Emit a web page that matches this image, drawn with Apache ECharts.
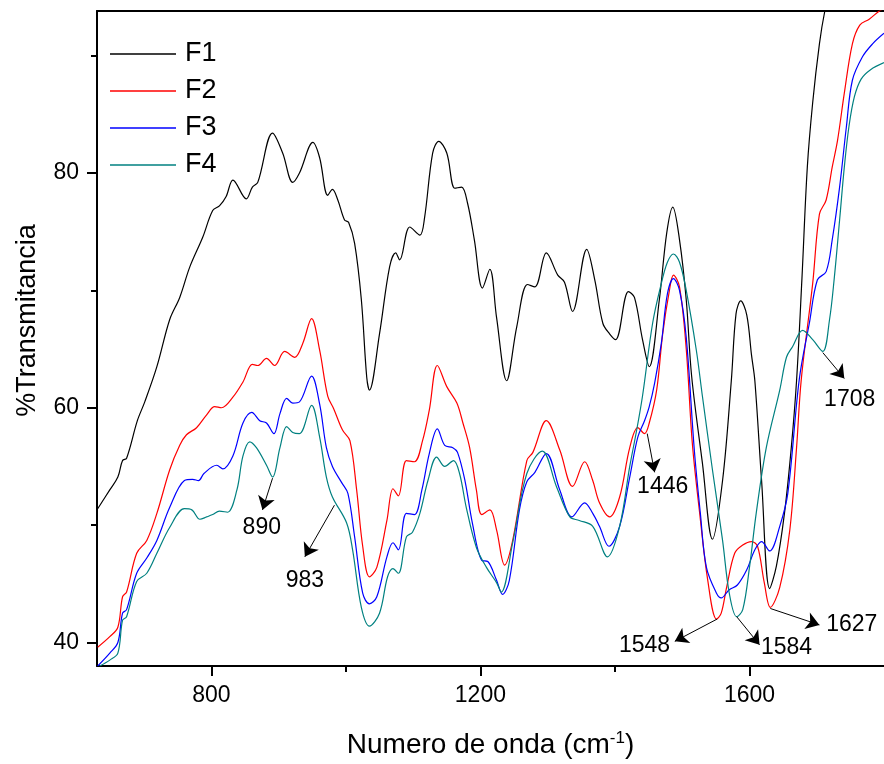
<!DOCTYPE html>
<html><head><meta charset="utf-8">
<script src="https://cdn.jsdelivr.net/npm/echarts@6/dist/echarts.min.js"></script>
<style>html,body{margin:0;padding:0;background:#fff}#c{width:884px;height:764px}</style>
</head><body><div id="c"></div>
<script>
var seriesNames = ['F1','F2','F3','F4'];
var F1 = [[631,51.4],[649,53.0],[661,54.1],[668,55.5],[674,55.7],[690,58.9],[701,60.5],[719,63.5],[738,67.5],[753,69.4],[768,72.0],[787,74.5],[802,76.8],[812,77.2],[822,78.0],[832,79.4],[852,77.8],[861,78.8],[869,79.2],[891,83.4],[906,81.7],[921,79.2],[931,80.0],[951,82.6],[961,81.3],[973,78.1],[980,78.6],[988,77.7],[998,76.0],[1004,75.8],[1013,74.0],[1023,69.2],[1031,62.6],[1035,61.5],[1050,66.3],[1065,72.0],[1074,73.2],[1080,72.6],[1095,75.4],[1110,74.7],[1117,76.2],[1129,81.7],[1138,82.7],[1150,81.7],[1162,78.7],[1172,78.8],[1181,77.4],[1191,74.3],[1203,70.2],[1214,71.8],[1224,67.7],[1239,62.3],[1254,66.9],[1270,70.5],[1281,70.3],[1298,73.2],[1315,71.3],[1325,70.7],[1337,68.2],[1358,73.5],[1370,70.9],[1382,67.2],[1392,66.3],[1401,65.8],[1420,69.9],[1429,69.4],[1441,65.8],[1451,63.5],[1466,69.2],[1477,74.9],[1486,77.1],[1496,74.3],[1506,69.2],[1514,62.7],[1530,55.3],[1545,48.8],[1560,53.8],[1573,62.3],[1580,68.0],[1587,69.1],[1596,67.9],[1603,64.5],[1608,62.3],[1618,53.8],[1630,44.6],[1640,46.5],[1652,51.0],[1662,56.5],[1670,62.3],[1678,71.0],[1686,80.5],[1694,86.0],[1704,91.0],[1712,93.8],[1725,97.0],[1800,99.0]];
var F2 = [[631,39.6],[649,40.5],[661,41.3],[668,43.9],[674,44.3],[689,47.6],[704,48.7],[719,51.0],[738,54.7],[753,56.8],[763,57.7],[778,58.3],[793,59.4],[805,60.1],[815,60.0],[832,60.9],[847,62.2],[861,63.7],[869,63.6],[882,64.2],[894,63.6],[909,64.8],[924,64.3],[936,65.5],[949,67.6],[961,64.9],[973,61.0],[982,59.9],[995,58.1],[1006,57.2],[1016,53.0],[1025,48.2],[1035,45.6],[1046,46.4],[1061,50.4],[1070,53.1],[1078,52.5],[1090,55.5],[1102,55.4],[1114,57.2],[1124,59.8],[1136,63.6],[1150,61.8],[1165,60.4],[1174,58.7],[1184,56.6],[1194,53.0],[1202,50.9],[1214,51.3],[1224,49.6],[1236,46.6],[1248,48.7],[1269,55.5],[1278,56.2],[1298,58.9],[1318,56.4],[1337,53.3],[1355,55.4],[1367,53.8],[1377,51.9],[1392,50.7],[1407,52.4],[1422,56.6],[1434,58.3],[1444,57.8],[1451,58.7],[1462,61.5],[1471,66.3],[1481,70.0],[1487,71.3],[1496,70.3],[1506,65.0],[1515,57.0],[1526,51.0],[1538,45.3],[1551,42.0],[1558,42.5],[1566,44.7],[1578,47.6],[1590,48.3],[1603,48.6],[1612,48.2],[1622,45.1],[1631,43.0],[1645,44.7],[1660,49.6],[1670,56.6],[1677,62.4],[1694,70.6],[1704,76.5],[1714,77.7],[1723,80.5],[1731,82.8],[1741,86.8],[1753,91.0],[1764,92.6],[1778,93.1],[1793,93.8],[1800,94.0]];
var F3 = [[631,38.0],[649,39.1],[661,40.0],[668,42.5],[674,42.8],[689,45.9],[704,47.2],[719,48.7],[738,51.5],[760,53.8],[772,53.9],[781,53.8],[789,54.4],[808,55.1],[817,54.8],[832,55.9],[847,58.7],[860,59.6],[872,58.9],[882,58.7],[893,57.8],[902,59.5],[912,60.8],[921,60.4],[931,60.5],[949,62.7],[961,60.3],[971,56.6],[980,55.0],[994,53.6],[1003,52.7],[1013,49.0],[1025,44.2],[1035,43.3],[1046,43.9],[1061,47.3],[1070,48.5],[1078,47.9],[1090,51.0],[1102,50.9],[1113,53.0],[1124,56.1],[1136,58.2],[1147,56.8],[1159,56.6],[1166,56.2],[1177,53.8],[1188,50.2],[1202,47.0],[1211,46.9],[1224,45.3],[1233,44.1],[1243,45.3],[1258,51.3],[1269,53.7],[1281,54.5],[1298,56.1],[1318,53.0],[1336,50.7],[1355,51.9],[1367,51.0],[1377,49.9],[1391,48.2],[1407,49.9],[1422,54.1],[1434,57.5],[1444,58.9],[1451,60.1],[1459,62.1],[1469,65.5],[1478,69.7],[1487,71.0],[1496,70.0],[1506,66.0],[1518,56.4],[1527,51.0],[1536,46.4],[1551,44.2],[1558,43.8],[1570,44.5],[1582,44.9],[1596,46.2],[1608,47.9],[1618,48.6],[1630,47.8],[1645,49.9],[1657,52.7],[1674,62.4],[1689,67.2],[1701,70.9],[1714,71.6],[1723,74.3],[1734,78.8],[1744,83.9],[1753,87.9],[1768,89.9],[1783,91.0],[1800,91.9]];
var F4 = [[634,38.0],[649,38.5],[661,39.1],[668,41.9],[674,42.2],[689,45.2],[704,45.9],[719,47.6],[738,49.8],[760,51.4],[771,51.3],[783,50.5],[793,50.7],[802,50.9],[812,51.2],[824,51.1],[838,53.0],[847,55.9],[857,57.1],[867,56.6],[882,55.1],[891,54.1],[902,56.6],[912,58.4],[921,57.9],[931,57.8],[949,60.2],[961,57.5],[971,54.1],[980,52.4],[1001,50.2],[1010,47.9],[1023,43.0],[1035,41.4],[1050,42.5],[1062,45.6],[1070,46.3],[1078,45.9],[1090,49.0],[1099,49.4],[1110,51.0],[1122,53.8],[1135,55.8],[1147,55.0],[1160,55.5],[1169,54.4],[1179,51.5],[1194,48.1],[1209,46.4],[1224,45.1],[1231,44.3],[1248,48.5],[1269,54.4],[1292,56.3],[1313,53.3],[1333,50.7],[1347,50.4],[1367,49.9],[1389,47.3],[1407,49.9],[1422,55.0],[1432,58.0],[1441,61.0],[1456,67.2],[1469,70.6],[1478,72.4],[1487,73.1],[1496,72.4],[1506,70.0],[1521,64.9],[1530,61.0],[1545,54.7],[1560,48.7],[1570,44.2],[1581,42.2],[1590,42.8],[1600,46.4],[1610,51.0],[1625,56.6],[1645,61.5],[1655,64.3],[1664,65.2],[1679,66.6],[1694,65.8],[1709,64.8],[1719,67.5],[1726,71.0],[1734,76.0],[1741,80.5],[1748,84.0],[1756,86.5],[1766,88.0],[1780,88.8],[1800,89.4]];
var colors = ['#000000','#ff0000','#0000ff','#008080'];
var xMajorTicks = [800,1200,1600];
var xMinorTicks = [1000,1400];
var yMajorTicks = [40,60,80];
var yMinorTicks = [50,70,90];
var annotTexts = ['890','983','1446','1548','1584','1627','1708'];
var annotTextPos = [[875,49.8],[939,45.3],[1471,53.3],[1444,39.7],[1655,39.6],[1752,41.5],[1749,60.7]];
var arrowFrom = [[891,54.0],[983,51.7],[1448,57.8],[1552,42.0],[1581,42.2],[1631,42.9],[1709,64.7]];
var arrowTo = [[876,51.3],[939,47.3],[1459,54.5],[1489,40.1],[1615,39.8],[1704,41.5],[1741,62.5]];

var FONT = "Arial, 'Liberation Sans', sans-serif";
var chart = echarts.init(document.getElementById('c'), null, {renderer:'canvas'});
var xRange = {min:630, max:1800};
var yRange = {min:38, max:93.8};
function plain(v){ return String(v); }
function axBase(extra){
  return Object.assign({type:'value', splitLine:{show:false}, nameMoveOverlap:false}, extra);
}
var allData = [F1,F2,F3,F4];
var series = seriesNames.map(function(n,i){
  return {name:n, type:'line', data:allData[i], xAxisIndex:0, yAxisIndex:0, showSymbol:false, symbol:'none',
    smooth:0.35, clip:true, lineStyle:{color:colors[i], width:1.2}, itemStyle:{color:colors[i]},
    emphasis:{disabled:true}, animation:false, z:2};
});
var mlData = arrowFrom.map(function(f,i){ return [{coord:f},{coord:arrowTo[i]}]; });
series.push({
  name:'annot', type:'scatter', xAxisIndex:0, yAxisIndex:0, symbolSize:0,
  itemStyle:{color:'#000', opacity:1}, silent:true, animation:false, z:5,
  data: annotTexts.map(function(t,i){ return {name:t, value:annotTextPos[i]}; }),
  label:{show:true, position:'inside', formatter:'{b}', color:'#000', opacity:1, fontSize:23, fontFamily:FONT},
  markLine:{silent:true, animation:false, symbol:['none','arrow'], symbolSize:13,
    itemStyle:{color:'#000', opacity:1},
    lineStyle:{color:'#000', width:1, type:'solid', opacity:1}, label:{show:false}, emphasis:{disabled:true},
    data: mlData}
});

chart.setOption({
  animation:false,
  backgroundColor:'#fff',
  grid:{left:97, right:0, top:11, bottom:98, outerBoundsMode:'none', containLabel:false},
  legend:{data:seriesNames, orient:'vertical', left:110, top:39, padding:0, itemGap:7,
    itemWidth:66, itemHeight:14, icon:'path://M0,0 L66,0 L66,1.3 L0,1.3 Z',
    textStyle:{fontSize:27, fontFamily:FONT, color:'#000', lineHeight:30, padding:[0,0,0,4]}},
  xAxis:[
    axBase(Object.assign({position:'bottom', name:'Numero de onda (cm{sup|-1})', nameLocation:'middle', nameGap:64,
      nameTextStyle:{fontSize:28, fontFamily:FONT, color:'#000', rich:{sup:{fontSize:17, fontFamily:FONT, color:'#000', verticalAlign:'top', padding:[0,0,14,0]}}},
      axisLine:{show:true, onZero:false, lineStyle:{color:'#000', width:2}},
      axisTick:{show:true, inside:false, length:10, lineStyle:{color:'#000', width:2}, customValues:xMajorTicks},
      axisLabel:{show:true, margin:18, fontSize:23, fontFamily:FONT, color:'#000', customValues:xMajorTicks, formatter:plain}}, xRange)),
    axBase(Object.assign({position:'bottom', axisLine:{show:false},
      axisTick:{show:true, inside:false, length:6, lineStyle:{color:'#000', width:2}, customValues:xMinorTicks},
      axisLabel:{show:false}}, xRange)),
    axBase(Object.assign({position:'top', axisLine:{show:true, onZero:false, lineStyle:{color:'#000', width:2}},
      axisTick:{show:false}, axisLabel:{show:false}}, xRange))
  ],
  yAxis:[
    axBase(Object.assign({position:'left', name:'%Transmitancia', nameLocation:'middle', nameGap:56, nameRotate:90,
      nameTextStyle:{fontSize:27, fontFamily:FONT, color:'#000', padding:[0,0,0,36]},
      axisLine:{show:true, onZero:false, lineStyle:{color:'#000', width:2}},
      axisTick:{show:true, inside:false, length:10, lineStyle:{color:'#000', width:2}, customValues:yMajorTicks},
      axisLabel:{show:true, margin:18, fontSize:23, fontFamily:FONT, color:'#000', customValues:yMajorTicks, formatter:plain}}, yRange)),
    axBase(Object.assign({position:'left', axisLine:{show:false},
      axisTick:{show:true, inside:false, length:6, lineStyle:{color:'#000', width:2}, customValues:yMinorTicks},
      axisLabel:{show:false}}, yRange))
  ],
  series:series
});
</script></body></html>
